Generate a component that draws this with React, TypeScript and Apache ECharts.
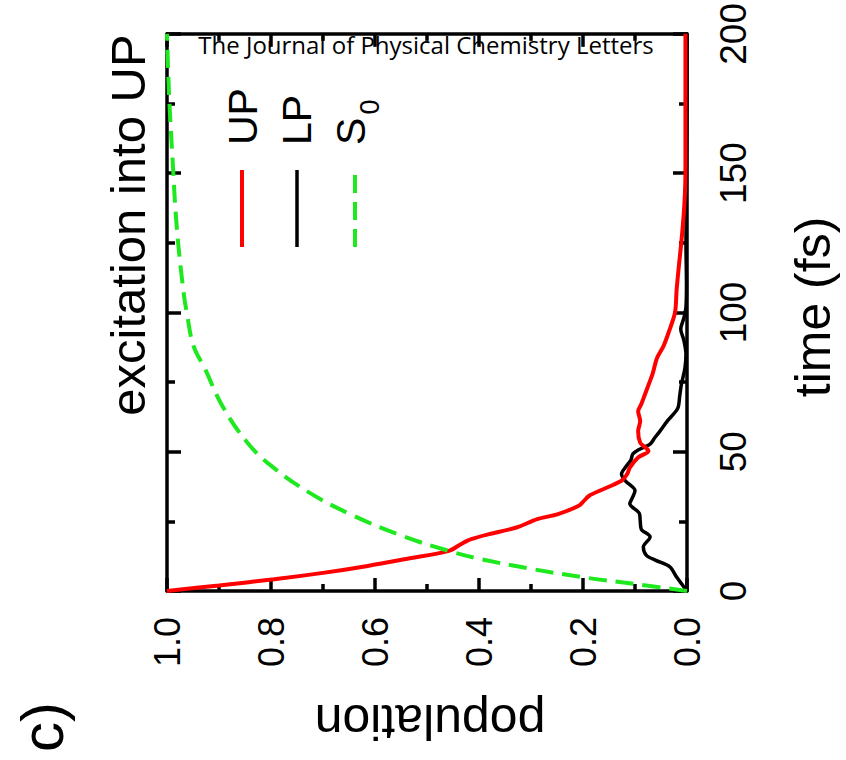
import React, { useEffect, useRef } from "react";
import * as echarts from "echarts";

// time (fs) and population values
const upTime = [0, 2, 4.2, 6.5, 9, 11.5, 14.4, 16.8, 18.6, 20.4, 22.8, 25.8, 27.6, 30.6, 32, 34.2, 36, 39.6, 42, 44.3, 47.9, 50.3, 51.5, 53.2, 57.4, 61, 64.5, 67, 70, 74, 78, 83.5, 88, 93, 100, 108, 116, 127, 139, 150, 175, 200];
const upPop = [1.0, 0.9, 0.794, 0.7, 0.614, 0.54, 0.458, 0.435, 0.415, 0.381, 0.328, 0.288, 0.248, 0.208, 0.2, 0.188, 0.168, 0.126, 0.115, 0.11, 0.094, 0.074, 0.08, 0.09, 0.094, 0.09, 0.094, 0.088, 0.082, 0.074, 0.066, 0.058, 0.045, 0.035, 0.023, 0.02, 0.016, 0.01, 0.005, 0.003, 0.003, 0.003];

const lpTime = [0, 2, 5, 8.7, 11, 12.8, 15.8, 19.4, 22.2, 25.3, 28, 31.3, 33.5, 36, 39.6, 42, 44.5, 47, 49.2, 51, 52.7, 55, 57.4, 61, 65.5, 70, 74, 80, 85, 90, 94, 98, 102, 110, 125, 150, 175, 200];
const lpPop = [0, 0.008, 0.02, 0.033, 0.06, 0.078, 0.084, 0.071, 0.088, 0.09, 0.092, 0.11, 0.105, 0.1, 0.119, 0.126, 0.118, 0.108, 0.104, 0.09, 0.071, 0.062, 0.052, 0.038, 0.018, 0.014, 0.011, 0.004, 0.002, 0.006, 0.012, 0.006, 0.002, 0.001, 0.002, 0.001, 0.0, 0.0];

const s0Time = [0, 2.4, 4.8, 7.8, 11.4, 14.4, 19.8, 27, 35.4, 45, 53.4, 66.6, 79.8, 88, 100, 107, 130, 154, 178, 200];
const s0Pop = [0, 0.095, 0.195, 0.295, 0.395, 0.458, 0.548, 0.641, 0.727, 0.8, 0.846, 0.894, 0.927, 0.949, 0.962, 0.968, 0.981, 0.989, 0.996, 1.0];

const seriesNames = ["UP", "LP", "S0"];
const titleText = "excitation into UP";
const xName = "population";
const yName = "time (fs)";
const panelLabel = "c)";
const journal = "The Journal of Physical Chemistry Letters";

const FONT = "'Liberation Sans', Arial, Helvetica, sans-serif";
const RED = "#ff0000";
const GREEN = "#1ee81e";

export default function App() {
  const ref = useRef<HTMLDivElement>(null);
  useEffect(() => {
    const chart = echarts.init(ref.current!, null, { renderer: "svg" });
    const pairs = (t: number[], p: number[]) => t.map((v, i) => [p[i], v]);
    const axisStyle = { color: "#000", width: 3.5 };
    const baseX = {
      type: "value",
      min: 0,
      max: 1,
      interval: 0.2,
      inverse: true,
      axisLine: { show: true, onZero: false, lineStyle: axisStyle },
      axisTick: { show: true, inside: true, length: 13, lineStyle: axisStyle },
      minorTick: { show: true, splitNumber: 2, length: 7, lineStyle: axisStyle },
      splitLine: { show: false },
    };
    const baseY = {
      type: "value",
      min: 0,
      max: 200,
      interval: 50,
      axisLine: { show: true, onZero: false, lineStyle: axisStyle },
      axisTick: { show: true, inside: true, length: 14, lineStyle: axisStyle },
      minorTick: { show: true, splitNumber: 2, length: 8, lineStyle: axisStyle },
      splitLine: { show: false },
    };
    const txt = (
      text: string,
      x: number,
      y: number,
      rotation: number,
      fontSize: number,
      align = "center",
      family = FONT
    ) => ({
      type: "text",
      x,
      y,
      rotation,
      z: 10,
      style: {
        text,
        fontSize,
        fontFamily: family,
        fill: "#000",
        align,
        verticalAlign: "middle",
        textAlign: align,
        textVerticalAlign: "middle",
      },
    });
    chart.setOption({
      animation: false,
      backgroundColor: "#fff",
      grid: { left: 167, right: 159, top: 30, bottom: 169, containLabel: false },
      xAxis: [
        {
          ...baseX,
          position: "bottom",
          axisLabel: {
            rotate: 90,
            margin: 26,
            fontSize: 36,
            color: "#000",
            fontFamily: FONT,
            formatter: (v: number) => v.toFixed(1),
          },
        },
        { ...baseX, position: "top", axisLabel: { show: false } },
      ],
      yAxis: [
        {
          ...baseY,
          position: "right",
          axisLabel: {
            rotate: 90,
            margin: 28,
            fontSize: 37,
            color: "#000",
            fontFamily: FONT,
            formatter: (v: number) => String(Math.round(v)),
          },
        },
        { ...baseY, position: "left", axisLabel: { show: false } },
      ],
      series: [
        {
          name: seriesNames[0],
          type: "line",
          xAxisIndex: 0,
          yAxisIndex: 0,
          data: pairs(upTime, upPop),
          showSymbol: false,
          smooth: 0.3,
          lineStyle: { color: RED, width: 4 },
          z: 4,
        },
        {
          name: seriesNames[1],
          type: "line",
          xAxisIndex: 0,
          yAxisIndex: 0,
          data: pairs(lpTime, lpPop),
          showSymbol: false,
          smooth: 0.3,
          lineStyle: { color: "#000", width: 3.5 },
          z: 3,
        },
        {
          name: seriesNames[2],
          type: "line",
          xAxisIndex: 0,
          yAxisIndex: 0,
          data: pairs(s0Time, s0Pop),
          showSymbol: false,
          smooth: 0.4,
          lineStyle: { color: GREEN, width: 4, type: [18, 9] },
          z: 5,
        },
      ],
      graphic: [
        txt(titleText, 128, 225, Math.PI / 2, 49),
        txt(xName, 430, 722, Math.PI, 50),
        txt(yName, 813, 307, Math.PI / 2, 50),
        txt(panelLabel, 42, 727, Math.PI / 2, 60),
        txt(journal, 426, 44, 0, 24, "center", "'Open Sans', 'Noto Sans', sans-serif"),
        // legend
        txt(seriesNames[0], 243, 145, Math.PI / 2, 41, "left"),
        txt(seriesNames[1], 297, 145, Math.PI / 2, 41, "left"),
        txt("S", 351, 145, Math.PI / 2, 41, "left"),
        txt("0", 370, 107, Math.PI / 2, 27, "center"),
        {
          type: "line",
          shape: { x1: 242, y1: 170, x2: 242, y2: 247 },
          style: { stroke: RED, lineWidth: 4 },
        },
        {
          type: "line",
          shape: { x1: 297, y1: 170, x2: 297, y2: 247 },
          style: { stroke: "#000", lineWidth: 3.5 },
        },
        {
          type: "line",
          shape: { x1: 355, y1: 247, x2: 355, y2: 170 },
          style: { stroke: GREEN, lineWidth: 4, lineDash: [18, 9] },
        },
      ],
    });
    return () => chart.dispose();
  }, []);
  return (
    <div
      ref={ref}
      style={{ position: "absolute", left: 0, top: 0, width: 846, height: 760 }}
    />
  );
}
